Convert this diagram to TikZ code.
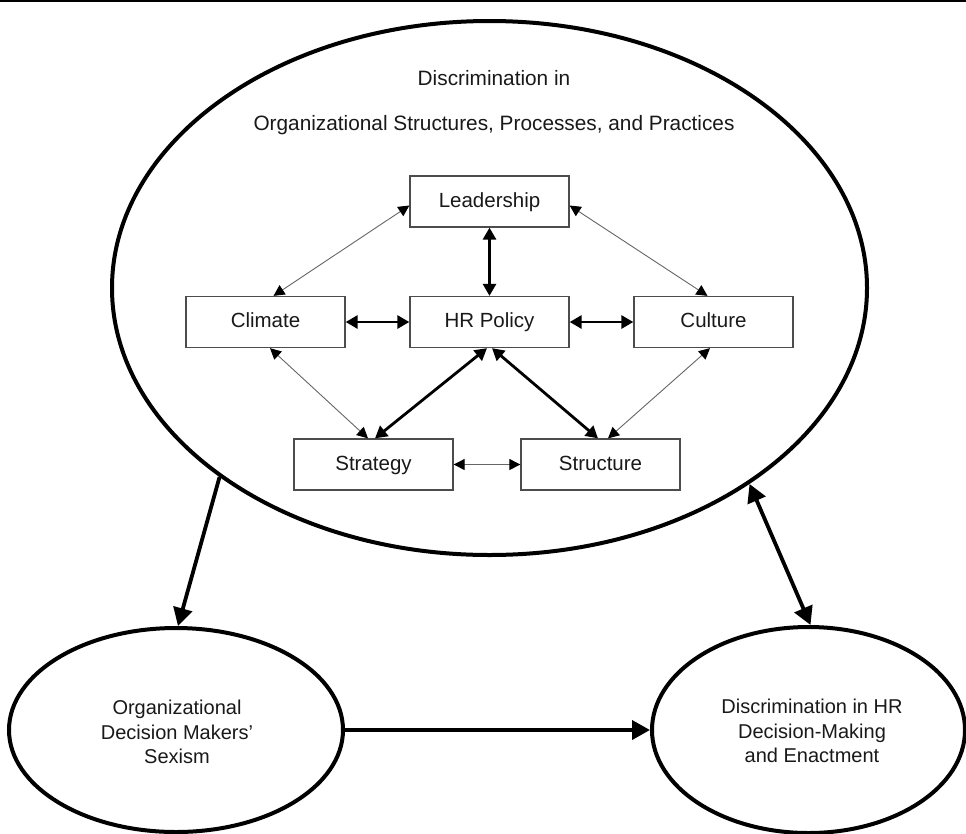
\documentclass[tikz,border=0pt]{standalone}
\usepackage{fontspec}
\setmainfont{Liberation Sans}
\usetikzlibrary{arrows.meta,shapes.geometric}
\tikzset{
  bigtip/.tip={Triangle[length=18pt,width=19pt]},
  thintip/.tip={Triangle[length=11pt,width=11pt,color=black]},
  thicktip/.tip={Triangle[length=12pt,width=13pt]}
}
\begin{document}
\begin{tikzpicture}[x=1pt,y=-1pt,
  box/.style={draw=black!70, line width=1.3pt, minimum width=159pt, minimum height=51pt, inner sep=0pt,
    text height=15pt, text depth=4pt,
    font=\fontsize{20.5}{24}\selectfont, text=black!90},
  oval/.style={ellipse, draw=black, line width=4pt, inner sep=0pt},
  thin/.style={draw=black!60, line width=0.9pt, {thintip}-{thintip}},
  thick/.style={draw=black, line width=2.8pt, {thicktip}-{thicktip}},
  bigarr/.style={draw=black, line width=3.8pt},
  lbl/.style={align=center, font=\fontsize{20}{24.5}\selectfont, text=black!90},
  ttl/.style={font=\fontsize{20.8}{24}\selectfont, text=black!90}
]
\useasboundingbox (0,0) rectangle (966,833);
\fill[white] (0,0) rectangle (966,833);
\draw[line width=2pt] (0,1) -- (966,1);

% big ellipse
\node[oval, minimum width=755pt, minimum height=534pt] (big) at (489.5,288) {};
\node[ttl] (t1) at (494,78) {Discrimination in};
\node[ttl] (t2) at (494,125) {Organizational Structures, Processes, and Practices};

% boxes
\node[box] (lead) at (489.5,201.5) {Leadership};
\node[box] (clim) at (265.5,322) {Climate};
\node[box] (hr)   at (489.5,322) {HR Policy};
\node[box] (cult) at (713.5,322) {Culture};
\node[box] (strat) at (373.5,464.5) {Strategy};
\node[box] (struc) at (600.5,464.5) {Structure};

% inner connectors
\draw[thin] ([xshift=8pt]clim.north) -- ([yshift=-4pt]lead.west);
\draw[thin] ([yshift=-4pt]lead.east) -- ([xshift=-6pt]cult.north);
\draw[thin] ([xshift=4.5pt]clim.south) -- ([xshift=-5.5pt]strat.north);
\draw[thin] ([xshift=7.5pt]struc.north) -- ([xshift=-3.5pt]cult.south);
\draw[thin] (strat.east) -- (struc.west);
\draw[thick] (lead.south) -- (hr.north);
\draw[thick] (clim.east) -- (hr.west);
\draw[thick] (hr.east) -- (cult.west);
\draw[thick] ([xshift=-2.5pt]hr.south) -- ([xshift=1.5pt]strat.north);
\draw[thick] ([xshift=2.5pt]hr.south) -- ([xshift=-2.5pt]struc.north);

% lower ellipses
\node[oval, minimum width=334pt, minimum height=204pt] (sex) at (176,730) {};
\node[lbl] (sexl) at (177,732) {Organizational\\Decision Makers'\\Sexism};
\node[oval, minimum width=313pt, minimum height=206pt] (dhr) at (808.5,730) {};
\node[lbl] (dhrl) at (812,731) {Discrimination in HR\\Decision-Making\\and Enactment};

% outer connectors
\draw[bigarr, -{bigtip}] (big.215.8) -- ([xshift=2pt]sex.north);
\draw[bigarr, {bigtip}-{bigtip}] (big.323.8) -- ([xshift=2pt]dhr.north);
\draw[bigarr, -{bigtip}] (sex.east) -- (dhr.west);
\end{tikzpicture}
\end{document}
